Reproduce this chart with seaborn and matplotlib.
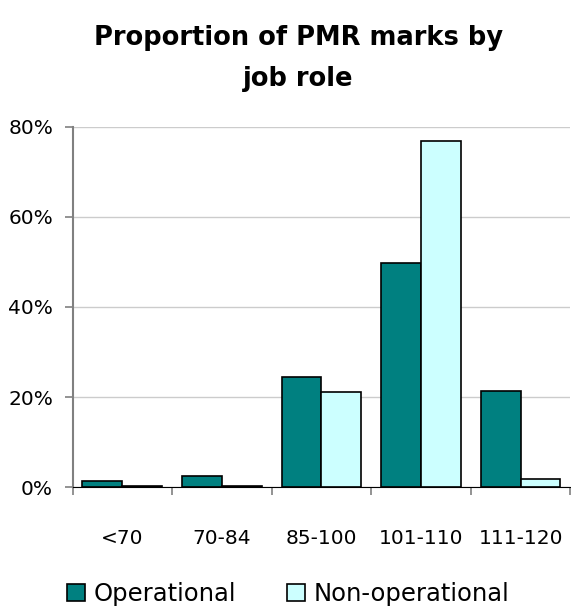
import pandas as pd
import seaborn as sns
import matplotlib.pyplot as plt
from matplotlib.ticker import PercentFormatter

categories = ["<70", "70-84", "85-100", "101-110", "111-120"]
operational = [1.4, 2.6, 24.4, 49.8, 21.3]
non_operational = [0.3, 0.3, 21.1, 76.9, 1.8]
series = ["Operational", "Non-operational"]

df = pd.DataFrame({
    "band": categories * 2,
    "value": operational + non_operational,
    "role": [series[0]] * len(categories) + [series[1]] * len(categories),
})

sns.set_style("white")
plt.rcParams['font.family'] = ['DejaVu Sans']
plt.rcParams['text.color'] = 'black'
plt.rcParams['xtick.labelcolor'] = 'black'
plt.rcParams['ytick.labelcolor'] = 'black'

fig = plt.figure(figsize=(5.71, 6.06), dpi=100)
ax = fig.add_axes([0.127, 0.196, 0.872, 0.595])

sns.barplot(data=df, x="band", y="value", hue="role",
            palette=["#008080", "#CCFFFF"], saturation=1,
            edgecolor="black", linewidth=1.2, width=0.8, ax=ax)

ax.set_ylim(0, 80)
ax.set_yticks([0, 20, 40, 60, 80])
ax.yaxis.set_major_formatter(PercentFormatter(decimals=0))
ax.grid(axis="y", color="#cccccc", linewidth=1)
ax.set_axisbelow(True)
ax.set_xlabel("")
ax.set_ylabel("")
ax.set_xlim(-0.5, 4.5)

for s in ["top", "right"]:
    ax.spines[s].set_visible(False)
ax.spines["left"].set_color("#808080")
ax.spines["left"].set_linewidth(1.5)
ax.spines["bottom"].set_color("black")
ax.tick_params(axis="y", labelsize=14.5, length=6, width=1.2, color="#808080",
               direction="out", left=True, pad=8)
ax.tick_params(axis="x", labelsize=14.5, length=0, pad=30)
# category separators on the x axis
ax.set_xticks([i - 0.5 for i in range(6)], minor=True)
ax.tick_params(axis="x", which="minor", length=6, width=1.2, color="#808080", bottom=True)

ax.legend_.remove()
handles, labels = ax.get_legend_handles_labels()
fig.legend(handles, labels, loc="center", bbox_to_anchor=(0.505, 0.02), ncol=2,
           frameon=False, fontsize=17.5, handlelength=0.75, handleheight=0.75,
           columnspacing=2.1, handletextpad=0.35, borderpad=0)

fig.suptitle("Proportion of PMR marks by\njob role", x=0.522, y=0.958,
             fontsize=18.5, fontweight="bold", linespacing=1.75, va="top")

fig.savefig("out.png", dpi=100)
